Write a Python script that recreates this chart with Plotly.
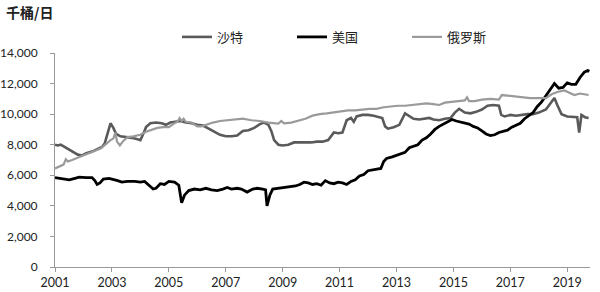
import plotly.graph_objects as go

# ---- data (decimal year, thousand barrels/day) ----
us_x = [2001.00, 2001.15, 2001.30, 2001.50, 2001.70, 2001.85, 2002.10, 2002.30, 2002.40, 2002.48,
        2002.58, 2002.70, 2002.90, 2003.05, 2003.20, 2003.35, 2003.55, 2003.80, 2004.00, 2004.15,
        2004.30, 2004.45, 2004.55, 2004.70, 2004.85, 2005.00, 2005.20, 2005.35, 2005.45, 2005.55,
        2005.70, 2005.90, 2006.10, 2006.30, 2006.50, 2006.70, 2006.90, 2007.05, 2007.20, 2007.40,
        2007.55, 2007.75, 2007.95, 2008.10, 2008.30, 2008.40, 2008.45, 2008.55, 2008.65, 2008.85,
        2009.05, 2009.25, 2009.45, 2009.60, 2009.75, 2009.90, 2010.05, 2010.20, 2010.35, 2010.50,
        2010.65, 2010.80, 2010.95, 2011.10, 2011.25, 2011.40, 2011.55, 2011.70, 2011.85, 2012.00,
        2012.15, 2012.30, 2012.45, 2012.55, 2012.65, 2012.85, 2013.00, 2013.15, 2013.30, 2013.45,
        2013.60, 2013.75, 2013.90, 2014.05, 2014.20, 2014.35, 2014.50, 2014.65, 2014.80, 2014.95,
        2015.10, 2015.25, 2015.40, 2015.55, 2015.70, 2015.85, 2016.00, 2016.15, 2016.30, 2016.45,
        2016.60, 2016.75, 2016.90, 2017.05, 2017.20, 2017.35, 2017.50, 2017.65, 2017.80, 2017.95,
        2018.10, 2018.25, 2018.40, 2018.55, 2018.70, 2018.85, 2019.00, 2019.15, 2019.30, 2019.45,
        2019.60, 2019.72, 2019.78]
us_y = [5850, 5800, 5750, 5700, 5800, 5880, 5850, 5850, 5650, 5400,
        5500, 5750, 5800, 5750, 5650, 5550, 5600, 5600, 5550, 5600,
        5350, 5100, 5150, 5450, 5400, 5600, 5550, 5350, 4200, 4700,
        5000, 5100, 5050, 5150, 5050, 5000, 5100, 5200, 5100, 5150,
        5100, 4900, 5100, 5150, 5100, 5050, 4000, 4700, 5100, 5150,
        5200, 5250, 5300, 5400, 5550, 5500, 5400, 5450, 5350, 5650,
        5500, 5450, 5550, 5500, 5400, 5600, 5700, 5950, 6050, 6300,
        6350, 6400, 6450, 6900, 7100, 7200, 7300, 7450, 7500, 7800,
        7900, 8000, 8300, 8450, 8700, 9000, 9200, 9350, 9500, 9650,
        9550, 9500, 9450, 9350, 9200, 9100, 8900, 8700, 8600, 8650,
        8800, 8850, 8950, 9150, 9250, 9400, 9700, 9900, 10100, 10500,
        10800, 11200, 11600, 12000, 11700, 11750, 12050, 11950, 11950, 12400,
        12750, 12850, 12800]

saudi_x = [2001.00, 2001.10, 2001.20, 2001.35, 2001.50, 2001.65, 2001.80, 2001.95, 2002.10, 2002.30,
           2002.50, 2002.65, 2002.75, 2002.85, 2002.95, 2003.05, 2003.15, 2003.30, 2003.50, 2003.70,
           2003.90, 2004.00, 2004.10, 2004.20, 2004.35, 2004.55, 2004.75, 2004.90, 2005.05, 2005.20,
           2005.40, 2005.60, 2005.80, 2006.00, 2006.20, 2006.40, 2006.60, 2006.80, 2007.00, 2007.20,
           2007.40, 2007.60, 2007.80, 2008.00, 2008.20, 2008.35, 2008.50, 2008.60, 2008.70, 2008.85,
           2009.00, 2009.20, 2009.40, 2009.60, 2009.80, 2010.00, 2010.20, 2010.40, 2010.60, 2010.80,
           2010.95, 2011.10, 2011.25, 2011.40, 2011.50, 2011.60, 2011.80, 2012.00, 2012.20, 2012.40,
           2012.50, 2012.60, 2012.70, 2012.90, 2013.10, 2013.30, 2013.45, 2013.60, 2013.80, 2014.00,
           2014.15, 2014.30, 2014.50, 2014.70, 2014.90, 2015.05, 2015.20, 2015.40, 2015.60, 2015.80,
           2016.00, 2016.20, 2016.40, 2016.60, 2016.68, 2016.80, 2017.00, 2017.20, 2017.40, 2017.60,
           2017.80, 2018.00, 2018.25, 2018.40, 2018.55, 2018.65, 2018.80, 2019.00, 2019.20, 2019.35,
           2019.42, 2019.50, 2019.62, 2019.75]
saudi_y = [8000, 7950, 8000, 7850, 7650, 7500, 7350, 7300, 7450, 7550,
           7700, 7850, 8100, 8750, 9400, 9100, 8700, 8550, 8500, 8450,
           8350, 8300, 8700, 9150, 9400, 9450, 9400, 9300, 9450, 9500,
           9550, 9450, 9400, 9300, 9250, 9050, 8850, 8650, 8550, 8550,
           8600, 8900, 8950, 9100, 9350, 9450, 9300, 8900, 8300, 8000,
           7950, 8000, 8150, 8150, 8150, 8150, 8200, 8200, 8300, 8800,
           8750, 8800, 9600, 9750, 9500, 9850, 9950, 9950, 9900, 9800,
           9750, 9200, 9050, 9150, 9300, 10050, 9850, 9700, 9650, 9700,
           9750, 9650, 9600, 9700, 9750, 10100, 10350, 10100, 10050, 10150,
           10300, 10550, 10600, 10550, 9950, 9850, 9950, 9900, 9950, 10000,
           10000, 10100, 10300, 10700, 11050, 10600, 10000, 9850, 9800, 9800,
           8800, 9950, 9800, 9750]

russia_x = [2001.00, 2001.15, 2001.30, 2001.38, 2001.45, 2001.60, 2001.80, 2002.00, 2002.20, 2002.40,
            2002.60, 2002.80, 2002.95, 2003.05, 2003.12, 2003.18, 2003.28, 2003.40, 2003.55, 2003.75,
            2004.00, 2004.20, 2004.40, 2004.60, 2004.80, 2005.00, 2005.15, 2005.30, 2005.38, 2005.45,
            2005.52, 2005.60, 2005.80, 2006.00, 2006.15, 2006.35, 2006.55, 2006.80, 2007.00, 2007.30,
            2007.60, 2007.90, 2008.20, 2008.50, 2008.70, 2008.85, 2008.95, 2009.05, 2009.30, 2009.55,
            2009.80, 2010.05, 2010.30, 2010.55, 2010.80, 2011.05, 2011.30, 2011.55, 2011.80, 2012.05,
            2012.30, 2012.55, 2012.80, 2013.05, 2013.30, 2013.55, 2013.80, 2014.05, 2014.30, 2014.50,
            2014.70, 2014.95, 2015.20, 2015.40, 2015.48, 2015.55, 2015.75, 2016.00, 2016.30, 2016.60,
            2016.70, 2016.90, 2017.10, 2017.40, 2017.70, 2018.00, 2018.25, 2018.45, 2018.65, 2018.90,
            2019.10, 2019.25, 2019.45, 2019.60, 2019.75]
russia_y = [6450, 6550, 6700, 7050, 6900, 7000, 7150, 7250, 7450, 7600,
            7750, 8050, 8300, 8400, 8800, 8200, 7950, 8250, 8500, 8550,
            8650, 8850, 9000, 9100, 9150, 9150, 9350, 9500, 9750, 9550,
            9700, 9500, 9450, 9200, 9200, 9350, 9450, 9550, 9600, 9650,
            9700, 9600, 9550, 9450, 9420, 9380, 9550, 9400, 9450, 9550,
            9700, 9900, 10000, 10050, 10100, 10200, 10250, 10250, 10300, 10350,
            10350, 10450, 10500, 10550, 10550, 10600, 10650, 10700, 10650, 10600,
            10750, 10800, 10850, 10900, 11100, 10850, 10850, 10950, 11000, 10950,
            11250, 11200, 11150, 11100, 11050, 11050, 11050, 11300, 11450, 11550,
            11400, 11250, 11350, 11300, 11250]

series_names = ["沙特", "美国", "俄罗斯"]
x_tick_vals = [2001, 2003, 2005, 2007, 2009, 2011, 2013, 2015, 2017, 2019]
x_tick_text = [str(v) for v in x_tick_vals]
y_tick_vals = [0, 2000, 4000, 6000, 8000, 10000, 12000, 14000]
unit_label = "千桶/日"

FONT = "Lato, 'Noto Sans CJK SC', sans-serif"
CJK = "'Noto Sans CJK SC', sans-serif"

fig = go.Figure()
fig.add_trace(go.Scatter(x=saudi_x, y=saudi_y, mode="lines", name=series_names[0],
                         line=dict(color="#5a5a5a", width=2.6)))
fig.add_trace(go.Scatter(x=us_x, y=us_y, mode="lines", name=series_names[1],
                         line=dict(color="#000000", width=2.8)))
fig.add_trace(go.Scatter(x=russia_x, y=russia_y, mode="lines", name=series_names[2],
                         line=dict(color="#9a9a9a", width=2.2)))

fig.update_layout(
    width=600, height=292,
    margin=dict(l=55, r=10, t=53, b=25, autoexpand=False),
    paper_bgcolor="white", plot_bgcolor="white",
    font=dict(family=FONT, size=12, color="#222"),
    showlegend=True,
    legend=dict(orientation="h", x=0.228, xanchor="left", y=1.075, yanchor="middle",
                font=dict(family=CJK, size=13, color="#222"),
                itemwidth=30, entrywidth=70, entrywidthmode="pixels",
                bgcolor="rgba(0,0,0,0)", tracegroupgap=0),
    xaxis=dict(range=[2001, 2019.8], tickvals=x_tick_vals, ticktext=x_tick_text,
               showgrid=False, zeroline=False, showline=True, linecolor="#999", linewidth=1,
               ticks="outside", ticklen=4, tickcolor="#999",
               tickfont=dict(family=FONT, size=12.5, color="#222")),
    yaxis=dict(range=[0, 14000], tickvals=y_tick_vals, tickformat=",",
               showgrid=False, zeroline=False, showline=True, linecolor="#999", linewidth=1,
               ticks="outside", ticklen=4, tickcolor="#999", ticklabelstandoff=10,
               tickfont=dict(family=FONT, size=12, color="#222")),
    annotations=[dict(text="<b>" + unit_label + "</b>", xref="paper", yref="paper",
                      x=-0.095, y=1.19, xanchor="left", yanchor="middle", showarrow=False,
                      font=dict(family=CJK, size=14, color="#222"))],
)

fig.write_html("out.html")
